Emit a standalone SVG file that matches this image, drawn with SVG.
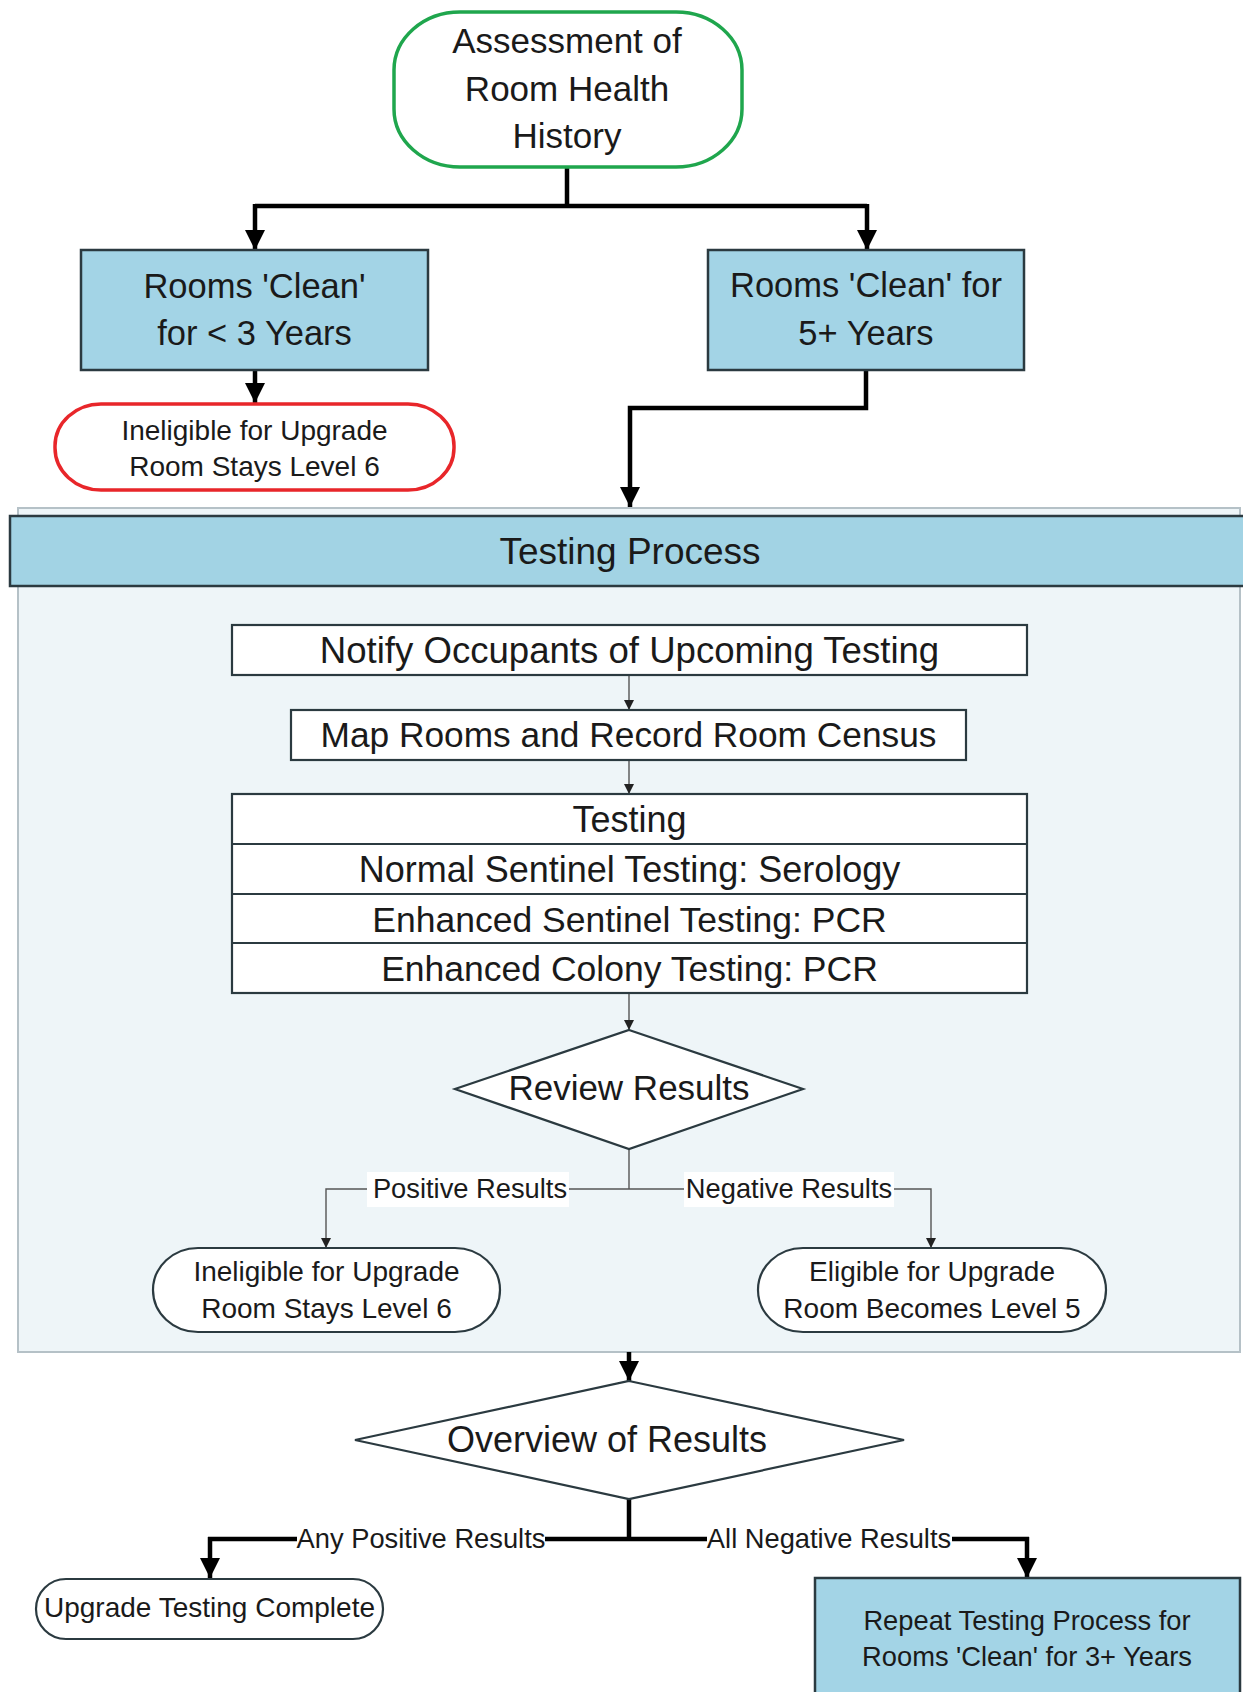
<svg xmlns="http://www.w3.org/2000/svg" width="1243" height="1692" viewBox="0 0 1243 1692">
<style>
  text { font-family: "Liberation Sans", Arial, sans-serif; fill: #1a1a1a; text-anchor: middle; }
  .blue { fill: #a3d4e6; stroke: #2b3a40; stroke-width: 2.5; }
  .white { fill: #ffffff; stroke: #2b3a40; stroke-width: 2.2; }
  .thick { fill: none; stroke: #000; stroke-width: 4.5; }
  .thin { fill: none; stroke: #555; stroke-width: 1.4; }
  .f35 { font-size: 35px; }
  .f34 { font-size: 34.5px; }
  .f36 { font-size: 36px; }
  .f28 { font-size: 28px; }
  .f27 { font-size: 27.3px; }
</style>
<defs>
  <marker id="big" markerUnits="userSpaceOnUse" markerWidth="22" markerHeight="22" refX="20" refY="10" orient="auto">
    <path d="M0,0 L20,10 L0,20 z" fill="#000"/>
  </marker>
  <marker id="small" markerUnits="userSpaceOnUse" markerWidth="12" markerHeight="12" refX="10" refY="5" orient="auto">
    <path d="M0,0 L10,5 L0,10 z" fill="#222"/>
  </marker>
</defs>
<rect width="1243" height="1692" fill="#ffffff"/>

<g id="testing-process">
  <rect x="18" y="508" width="1222" height="844" fill="#eef5f8" stroke="#b5c1c7" stroke-width="2"/>
  <rect x="10" y="516" width="1245" height="70" fill="#a2d3e4" stroke="#2b3a40" stroke-width="2.5"/>
  <text x="630" y="564" style="font-size:37px">Testing Process</text>
</g>

<g id="connectors">
  <path class="thick" d="M567,167 V206"/>
  <path class="thick" d="M255,206 H867"/>
  <path class="thick" d="M255,204 V250" marker-end="url(#big)"/>
  <path class="thick" d="M867,204 V250" marker-end="url(#big)"/>
  <path class="thick" d="M255,370 V403" marker-end="url(#big)"/>
  <path class="thick" d="M866,370 V408 H630 V507" marker-end="url(#big)"/>
  <path class="thin" d="M629,675 V710" marker-end="url(#small)"/>
  <path class="thin" d="M629,760 V794" marker-end="url(#small)"/>
  <path class="thin" d="M629,993 V1030" marker-end="url(#small)"/>
  <path class="thin" d="M629,1149 V1189"/>
  <path class="thin" d="M629,1189 H326 V1248" marker-end="url(#small)"/>
  <path class="thin" d="M629,1189 H931 V1248" marker-end="url(#small)"/>
  <rect x="367" y="1172" width="202" height="35" fill="#ffffff"/>
  <text class="f27" x="470" y="1198">Positive Results</text>
  <rect x="684" y="1172" width="210" height="35" fill="#ffffff"/>
  <text class="f27" x="789" y="1198">Negative Results</text>
  <path class="thick" d="M629,1352 V1381" marker-end="url(#big)"/>
  <path class="thick" d="M629,1499 V1539"/>
  <path class="thick" d="M1029,1539 H208"/>
  <path class="thick" d="M210,1537 V1578" marker-end="url(#big)"/>
  <path class="thick" d="M1027,1537 V1578" marker-end="url(#big)"/>
  <rect x="297" y="1520" width="248" height="36" fill="#ffffff"/>
  <text class="f27" x="421" y="1548">Any Positive Results</text>
  <rect x="707" y="1520" width="245" height="36" fill="#ffffff"/>
  <text class="f27" x="829" y="1548">All Negative Results</text>
</g>

<g id="assessment">
  <rect x="394" y="12" width="348" height="155" rx="66" ry="58" fill="#ffffff" stroke="#1fa64d" stroke-width="3.5"/>
  <text class="f35" x="567" y="53">Assessment of</text>
  <text class="f35" x="567" y="101">Room Health</text>
  <text class="f35" x="567" y="148">History</text>
</g>

<g id="clean-lt3">
  <rect class="blue" x="81" y="250" width="347" height="120"/>
  <text class="f34" x="254.5" y="298">Rooms 'Clean'</text>
  <text class="f34" x="254.5" y="345">for &lt; 3 Years</text>
</g>

<g id="clean-5plus">
  <rect class="blue" x="708" y="250" width="316" height="120"/>
  <text class="f34" x="866" y="297">Rooms 'Clean' for</text>
  <text class="f34" x="866" y="345">5+ Years</text>
</g>

<g id="ineligible-top">
  <rect x="55" y="404" width="399" height="86" rx="46" ry="42" fill="#ffffff" stroke="#e8262a" stroke-width="3.5"/>
  <text class="f28" x="254.5" y="440">Ineligible for Upgrade</text>
  <text class="f28" x="254.5" y="476">Room Stays Level 6</text>
</g>

<g id="notify">
  <rect class="white" x="232" y="625" width="795" height="50"/>
  <text x="629.5" y="663" style="font-size:36.6px">Notify Occupants of Upcoming Testing</text>
</g>

<g id="map">
  <rect class="white" x="291" y="710" width="675" height="50"/>
  <text x="628.5" y="747" style="font-size:35.3px">Map Rooms and Record Room Census</text>
</g>

<g id="testing">
  <rect class="white" x="232" y="794" width="795" height="199"/>
  <path d="M232,844 H1027 M232,894 H1027 M232,943 H1027" stroke="#2b3a40" stroke-width="2.2" fill="none"/>
  <text class="f36" x="629.5" y="832">Testing</text>
  <text class="f36" x="629.5" y="882">Normal Sentinel Testing: Serology</text>
  <text x="629.5" y="932" style="font-size:35.5px">Enhanced Sentinel Testing: PCR</text>
  <text x="629.5" y="981" style="font-size:35.5px">Enhanced Colony Testing: PCR</text>
</g>

<g id="review">
  <polygon class="white" points="629,1030 803,1089 629,1149 455,1089"/>
  <text class="f35" x="629" y="1100">Review Results</text>
</g>

<g id="ineligible-bottom">
  <rect class="white" x="153" y="1248" width="347" height="84" rx="45" ry="42"/>
  <text class="f28" x="326.5" y="1281">Ineligible for Upgrade</text>
  <text class="f28" x="326.5" y="1318">Room Stays Level 6</text>
</g>

<g id="eligible">
  <rect class="white" x="758" y="1248" width="348" height="84" rx="45" ry="42"/>
  <text class="f28" x="932" y="1281">Eligible for Upgrade</text>
  <text class="f28" x="932" y="1318">Room Becomes Level 5</text>
</g>

<g id="overview">
  <polygon class="white" points="629,1381 904,1440 629,1499 355,1440"/>
  <text class="f36" x="607" y="1452">Overview of Results</text>
</g>

<g id="complete">
  <rect class="white" x="36" y="1579" width="347" height="60" rx="30" ry="30"/>
  <text class="f28" x="209.5" y="1617">Upgrade Testing Complete</text>
</g>

<g id="repeat">
  <rect class="blue" x="815" y="1578" width="425" height="125"/>
  <text class="f27" x="1027" y="1630">Repeat Testing Process for</text>
  <text class="f27" x="1027" y="1666">Rooms 'Clean' for 3+ Years</text>
</g>
</svg>
